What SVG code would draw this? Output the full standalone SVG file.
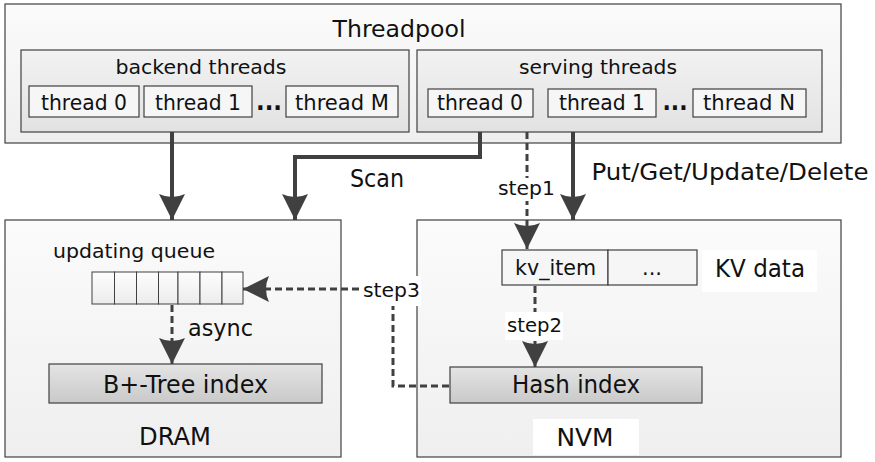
<svg xmlns="http://www.w3.org/2000/svg" width="875" height="462" viewBox="0 0 875 462">
<style>
text{font-family:"DejaVu Sans","Liberation Sans",sans-serif;fill:#111;}
.box{stroke:#404040;stroke-width:1.2;}
.outer{fill:url(#gOuter);}
.inner{fill:url(#gInner);}
.thr{fill:#f6f6f6;stroke:#404040;stroke-width:1.2;}
.idx{fill:url(#gIdx);stroke:#404040;stroke-width:1.2;}
.solid{fill:none;stroke:#404040;stroke-width:4;marker-end:url(#ah);}
.dash{fill:none;stroke:#404040;stroke-width:3;stroke-dasharray:7 4;marker-end:url(#ah);}
.lbl{fill:#fff;}
.cell{fill:url(#gCell);stroke:#404040;stroke-width:1;}
.dots{font-size:24px;font-weight:bold;}
</style>
<defs>
<linearGradient id="gOuter" x1="0" y1="0" x2="0" y2="1"><stop offset="0" stop-color="#fbfbfb"/><stop offset="1" stop-color="#efefef"/></linearGradient>
<linearGradient id="gInner" x1="0" y1="0" x2="0" y2="1"><stop offset="0" stop-color="#f2f2f2"/><stop offset="1" stop-color="#e2e2e2"/></linearGradient>
<linearGradient id="gIdx" x1="0" y1="0" x2="0" y2="1"><stop offset="0" stop-color="#e4e4e4"/><stop offset="1" stop-color="#c9c9c9"/></linearGradient>
<linearGradient id="gCell" x1="0" y1="0" x2="0" y2="1"><stop offset="0" stop-color="#fdfdfd"/><stop offset="1" stop-color="#ececec"/></linearGradient>
<marker id="ah" viewBox="0 0 26 26" refX="26" refY="13" markerWidth="26" markerHeight="26" markerUnits="userSpaceOnUse" orient="auto">
<path d="M0,0 L26,13 L0,26 Q6,13 0,0 Z" fill="#404040"/>
</marker>
</defs>

<g id="threadpool">
<rect class="box outer" x="5" y="4" width="836" height="139"/>
<text x="399" y="37" font-size="23" text-anchor="middle" textLength="133" lengthAdjust="spacingAndGlyphs">Threadpool</text>
</g>

<g id="backend-threads">
<rect class="box inner" x="21" y="50" width="388" height="82"/>
<text x="201" y="74" font-size="20" text-anchor="middle" textLength="171" lengthAdjust="spacingAndGlyphs">backend threads</text>
<g id="backend-thread-0"><rect class="thr" x="29" y="86" width="110" height="31"/><text x="84" y="110" font-size="21" text-anchor="middle" textLength="86" lengthAdjust="spacingAndGlyphs">thread 0</text></g>
<g id="backend-thread-1"><rect class="thr" x="144" y="86" width="108" height="31"/><text x="198" y="110" font-size="21" text-anchor="middle" textLength="86" lengthAdjust="spacingAndGlyphs">thread 1</text></g>
<text class="dots" x="269" y="110" text-anchor="middle" textLength="26" lengthAdjust="spacingAndGlyphs">...</text>
<g id="backend-thread-M"><rect class="thr" x="286" y="86" width="112" height="31"/><text x="342" y="110" font-size="21" text-anchor="middle" textLength="94" lengthAdjust="spacingAndGlyphs">thread M</text></g>
</g>

<g id="serving-threads">
<rect class="box inner" x="417" y="50" width="405" height="82"/>
<text x="598" y="74" font-size="20" text-anchor="middle" textLength="158" lengthAdjust="spacingAndGlyphs">serving threads</text>
<g id="serving-thread-0"><rect class="thr" x="428" y="89" width="105" height="28"/><text x="480" y="110" font-size="21" text-anchor="middle" textLength="86" lengthAdjust="spacingAndGlyphs">thread 0</text></g>
<g id="serving-thread-1"><rect class="thr" x="548" y="89" width="108" height="28"/><text x="602" y="110" font-size="21" text-anchor="middle" textLength="86" lengthAdjust="spacingAndGlyphs">thread 1</text></g>
<text class="dots" x="675" y="110" text-anchor="middle" textLength="25" lengthAdjust="spacingAndGlyphs">...</text>
<g id="serving-thread-N"><rect class="thr" x="693" y="89" width="113" height="28"/><text x="749" y="110" font-size="21" text-anchor="middle" textLength="92" lengthAdjust="spacingAndGlyphs">thread N</text></g>
</g>

<g id="dram">
<rect class="box outer" x="5" y="220" width="336" height="237"/>
<text x="175" y="445" font-size="24" text-anchor="middle" textLength="72" lengthAdjust="spacingAndGlyphs">DRAM</text>
</g>

<g id="nvm">
<rect class="box outer" x="417" y="220" width="424" height="237"/>
<rect class="lbl" x="533" y="419" width="106" height="36"/>
<text x="585" y="446" font-size="24" text-anchor="middle" textLength="57" lengthAdjust="spacingAndGlyphs">NVM</text>
</g>

<g id="updating-queue">
<text x="134" y="258" font-size="20" text-anchor="middle" textLength="162" lengthAdjust="spacingAndGlyphs">updating queue</text>
<rect class="cell" x="92" y="272" width="22.5" height="32"/>
<rect class="cell" x="114.5" y="272" width="22" height="32"/>
<rect class="cell" x="136.5" y="272" width="22" height="32"/>
<rect class="cell" x="158.5" y="272" width="19.5" height="32"/>
<rect class="cell" x="178" y="272" width="22" height="32"/>
<rect class="cell" x="200" y="272" width="22" height="32"/>
<rect class="cell" x="222" y="272" width="21" height="32"/>
</g>

<g id="btree-index">
<rect class="idx" x="49" y="364" width="273" height="39"/>
<text x="185.5" y="393" font-size="24" text-anchor="middle" textLength="165" lengthAdjust="spacingAndGlyphs">B+-Tree index</text>
</g>

<g id="kv-data">
<rect class="thr" x="502" y="250" width="106" height="35"/>
<text x="555.5" y="275" font-size="21" text-anchor="middle" textLength="81" lengthAdjust="spacingAndGlyphs">kv_item</text>
<rect class="thr" x="608" y="250" width="89" height="35"/>
<text x="652" y="275" font-size="21" text-anchor="middle">...</text>
<rect class="lbl" x="702" y="250" width="115" height="42"/>
<text x="760" y="277" font-size="24" text-anchor="middle" textLength="90" lengthAdjust="spacingAndGlyphs">KV data</text>
</g>

<g id="hash-index">
<rect class="idx" x="450" y="367" width="252" height="36"/>
<text x="576" y="393" font-size="24" text-anchor="middle" textLength="128" lengthAdjust="spacingAndGlyphs">Hash index</text>
</g>

<g id="connectors">
<path class="solid" d="M172,132 V220"/>
<path class="solid" d="M480,132 V157 H295 V220"/>
<path class="solid" d="M573,132 V220"/>
<path class="dash" d="M527,132 V249"/>
<path class="dash" d="M172,305 V364"/>
<path class="dash" d="M535,286 V367"/>
<path class="dash" d="M449,386 H393 V289 H243"/>
<text x="377" y="187" font-size="24" text-anchor="middle" textLength="54" lengthAdjust="spacingAndGlyphs">Scan</text>
<text x="730" y="180" font-size="23" text-anchor="middle" textLength="277" lengthAdjust="spacingAndGlyphs">Put/Get/Update/Delete</text>
<rect class="lbl" x="496" y="178" width="61" height="23"/>
<text x="526.5" y="195" font-size="19" text-anchor="middle" textLength="57" lengthAdjust="spacingAndGlyphs">step1</text>
<rect class="lbl" x="505" y="312" width="58" height="28"/>
<text x="534.5" y="332" font-size="19" text-anchor="middle" textLength="55" lengthAdjust="spacingAndGlyphs">step2</text>
<rect class="lbl" x="361" y="276" width="60" height="30"/>
<text x="391.5" y="297" font-size="19" text-anchor="middle" textLength="57" lengthAdjust="spacingAndGlyphs">step3</text>
<text x="220.5" y="336" font-size="23" text-anchor="middle" textLength="65" lengthAdjust="spacingAndGlyphs">async</text>
</g>
</svg>
